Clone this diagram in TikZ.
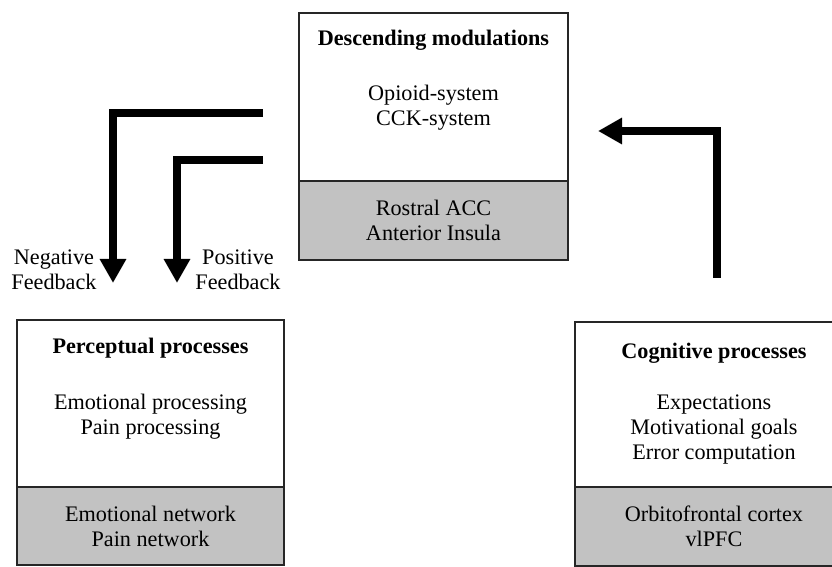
\documentclass[tikz,border=0pt]{standalone}
\usepackage{fontspec}
\setmainfont{Liberation Serif}
\usetikzlibrary{arrows.meta}

\definecolor{regiongray}{RGB}{194,194,194}

\tikzset{
  part/.style={draw=black!85, line width=0.9pt, inner sep=0pt, align=center,
    font=\fontsize{11.1}{12.5}\selectfont},
  region/.style={part, fill=regiongray},
  txt/.style={align=center, inner sep=0pt, font=\fontsize{11.1}{12.5}\selectfont},
  heading/.style={txt, font=\fontsize{11.1}{12.5}\selectfont\bfseries},
  fb/.style={line width=4pt, -{Triangle[width=12.5pt,length=12pt]}},
}

\begin{document}
\begin{tikzpicture}[x=0.5pt,y=-0.5pt]
\useasboundingbox (0,0) rectangle (832,567);
\clip (0,0) rectangle (832,567);

% descending modulations
\node[part, minimum width=134.5pt, minimum height=84pt] (desc) at (433.5,97) {};
\node[region, minimum width=134.5pt, minimum height=39.5pt] (descR) at (433.5,220.5) {Rostral ACC\\Anterior Insula};
\node[heading] (descT) at (433.5,40) {Descending modulations};
\node[txt] (descI) at (433.5,107.5) {Opioid-system\\CCK-system};

% perceptual processes
\node[part, minimum width=133.5pt, minimum height=83.5pt] (perc) at (150.5,403.5) {};
\node[region, minimum width=133.5pt, minimum height=39pt] (percR) at (150.5,526) {Emotional network\\Pain network};
\node[heading] (percT) at (150.5,348) {Perceptual processes};
\node[txt] (percI) at (150.5,416.5) {Emotional processing\\Pain processing};

% cognitive processes
\node[part, minimum width=139pt, minimum height=82.5pt] (cogn) at (714,404.5) {};
\node[region, minimum width=139pt, minimum height=39.5pt] (cognR) at (714,526.5) {Orbitofrontal cortex\\vlPFC};
\node[heading] (cognT) at (714,353) {Cognitive processes};
\node[txt] (cognI) at (714,430) {Expectations\\Motivational goals\\Error computation};

% feedback arrows
\coordinate (negS) at (263,113);
\coordinate (negE) at (113,283);
\coordinate (posS) at (263,160);
\coordinate (posE) at (177,283);
\coordinate (cogS) at (717,278);
\coordinate (cogE) at (598,131);

\draw[fb] (negS) -| (negE);
\draw[fb] (posS) -| (posE);
\draw[fb] (cogS) |- (cogE);

\node[txt] (neg) at (54,270) {Negative\\Feedback};
\node[txt] (pos) at (238,270) {Positive\\Feedback};
\end{tikzpicture}
\end{document}
